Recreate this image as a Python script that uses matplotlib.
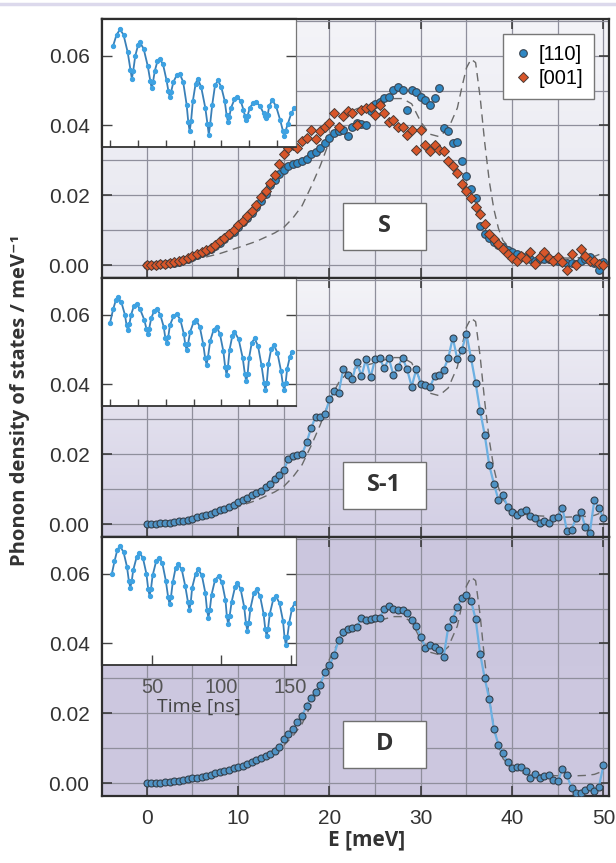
import numpy as np
import matplotlib
matplotlib.use("Agg")
import matplotlib.pyplot as plt
from matplotlib.colors import to_rgb
from matplotlib.lines import Line2D
from matplotlib.patches import Rectangle
from matplotlib.ticker import MultipleLocator

plt.rcParams['font.family'] = ['Liberation Sans', 'DejaVu Sans']

# energy grid of the measured spectra (meV)
energy = np.arange(0, 50.01, 0.5)

# sample S, two orientations
dos_s_110 = [0.0000, 0.0000, 0.0001, 0.0002, 0.0003, 0.0005, 0.0007, 0.0010, 0.0014, 0.0018,
             0.0023, 0.0028, 0.0034, 0.0040, 0.0047, 0.0055, 0.0064, 0.0074, 0.0085, 0.0096,
             0.0110, 0.0122, 0.0136, 0.0150,
             0.0165, 0.0185, 0.0205, 0.0228, 0.0245, 0.0260, 0.0272, 0.0284, 0.0290, 0.0293,
             0.0298, 0.0305, 0.0317, 0.0325, 0.0336, 0.0350, 0.0364, 0.0378, 0.0383, 0.0388,
             0.0369, 0.0395, 0.0407, 0.0404, 0.0402, 0.0440, 0.0462, 0.0468, 0.0478, 0.0482,
             0.0501, 0.0511, 0.0501, 0.0445, 0.0501, 0.0497, 0.0482, 0.0473, 0.0459, 0.0478,
             0.0506, 0.0392, 0.0383, 0.0350, 0.0354, 0.0298, 0.0255, 0.0217, 0.0193, 0.0113,
             0.0090, 0.0078, 0.0066, 0.0058, 0.0051, 0.0044, 0.0037, 0.0032, 0.0027, 0.0022,
             0.0018, 0.0013, 0.0016, 0.0018, 0.0018, 0.0015, 0.0013, 0.0010, 0.0007, 0.0005,
             0.0004, 0.0012, 0.0018, 0.0023, 0.0005, -0.0015, 0.0009]
dos_s_001 = [0.0000, 0.0000, 0.0001, 0.0002, 0.0003, 0.0005, 0.0008, 0.0011, 0.0015, 0.0020,
             0.0025, 0.0031, 0.0037, 0.0042, 0.0050, 0.0058, 0.0068, 0.0078, 0.0088, 0.0100,
             0.0115, 0.0126, 0.0142, 0.0155, 0.0172, 0.0195, 0.0212, 0.0236, 0.0258, 0.0290,
             0.0318, 0.0335, 0.0345, 0.0335, 0.0355, 0.0364, 0.0388, 0.0360, 0.0383, 0.0395,
             0.0407, 0.0435, 0.0397, 0.0426, 0.0440, 0.0435, 0.0402, 0.0445, 0.0449, 0.0454,
             0.0430, 0.0459, 0.0435, 0.0411, 0.0416, 0.0397, 0.0395, 0.0373, 0.0388, 0.0331,
             0.0388, 0.0345, 0.0326, 0.0345, 0.0331, 0.0326, 0.0298, 0.0283, 0.0264, 0.0231,
             0.0212, 0.0193, 0.0165, 0.0146, 0.0118, 0.0089, 0.0075, 0.0061, 0.0046, 0.0032,
             0.0020, 0.0013, 0.0027, 0.0018, 0.0037, 0.0004, 0.0023, 0.0037, 0.0020, 0.0013,
             0.0023, 0.0009, -0.0015, 0.0032, -0.0001, 0.0046, 0.0025, 0.0013, 0.0013, 0.0004,
             0.0000]

# sample S-1
dos_s1 = [0.0000, 0.0000, 0.0001, 0.0002, 0.0003, 0.0004, 0.0006, 0.0008, 0.0010, 0.0013,
          0.0016, 0.0019, 0.0022, 0.0026, 0.0029, 0.0034, 0.0039, 0.0043, 0.0049, 0.0056,
          0.0062, 0.0070, 0.0075, 0.0082, 0.0088, 0.0095, 0.0105, 0.0115, 0.0130, 0.0140,
          0.0154, 0.0187, 0.0196, 0.0198, 0.0200, 0.0234, 0.0276, 0.0308, 0.0308, 0.0314,
          0.0357, 0.0380, 0.0375, 0.0443, 0.0427, 0.0415, 0.0465, 0.0423, 0.0473, 0.0420,
          0.0473, 0.0475, 0.0446, 0.0475, 0.0427, 0.0449, 0.0477, 0.0443, 0.0394, 0.0443,
          0.0402, 0.0399, 0.0392, 0.0423, 0.0427, 0.0442, 0.0475, 0.0534, 0.0472, 0.0500,
          0.0545, 0.0475, 0.0404, 0.0324, 0.0255, 0.0168, 0.0116, 0.0069, 0.0083, 0.0050,
          0.0036, 0.0025, 0.0036, 0.0041, 0.0022, 0.0017, 0.0003, 0.0008, 0.0003, 0.0017,
          0.0019, 0.0047, -0.0020, -0.0016, 0.0017, 0.0036, -0.0007, -0.0025, 0.0069, 0.0045,
          0.0017]

# sample D
dos_d = [0.0000, 0.0000, 0.0001, 0.0001, 0.0002, 0.0003, 0.0005, 0.0007, 0.0009, 0.0011,
         0.0014, 0.0016, 0.0018, 0.0021, 0.0024, 0.0028, 0.0032, 0.0034, 0.0039, 0.0043,
         0.0047, 0.0050, 0.0056, 0.0061, 0.0066, 0.0071, 0.0077, 0.0083, 0.0092, 0.0104,
         0.0125, 0.0140, 0.0155, 0.0175, 0.0192, 0.0222, 0.0245, 0.0262, 0.0282, 0.0318,
         0.0338, 0.0367, 0.0410, 0.0432, 0.0442, 0.0443, 0.0448, 0.0472, 0.0467, 0.0471,
         0.0474, 0.0474, 0.0498, 0.0507, 0.0498, 0.0496, 0.0495, 0.0486, 0.0467, 0.0450,
         0.0420, 0.0388, 0.0396, 0.0390, 0.0380, 0.0362, 0.0446, 0.0470, 0.0505, 0.0530,
         0.0538, 0.0522, 0.0470, 0.0370, 0.0300, 0.0240, 0.0155, 0.0110, 0.0085, 0.0060,
         0.0042, 0.0047, 0.0045, 0.0034, 0.0016, 0.0027, 0.0015, 0.0020, 0.0022, 0.0008,
         0.0005, 0.0040, 0.0022, -0.0014, -0.0029, -0.0028, -0.0020, -0.0010, -0.0024, -0.0010,
         0.0052]

# calculated DOS (dashed, same in all panels)
calc_e = [2, 4, 6, 8, 10, 12, 14, 15, 16, 17, 18, 19, 20, 21, 22, 23, 24, 25, 26, 27,
          28, 29, 30, 31, 32, 33, 34, 34.5, 35, 35.5, 36, 36.5, 37, 37.5, 38, 38.5, 39,
          40, 41, 42, 44, 46, 48, 49, 50]
calc_dos = [0.0003, 0.0010, 0.0020, 0.0033, 0.0050, 0.0068, 0.0092, 0.0108, 0.0135, 0.0170,
            0.0225, 0.0285, 0.0355, 0.0405, 0.0435, 0.0448, 0.0455, 0.0462, 0.0470, 0.0477,
            0.0477, 0.0462, 0.0410, 0.0375, 0.0368, 0.0390, 0.0450, 0.0510, 0.0565, 0.0590,
            0.0580, 0.0480, 0.0350, 0.0240, 0.0160, 0.0105, 0.0070, 0.0042, 0.0030, 0.0025,
            0.0022, 0.0020, 0.0022, 0.0025, 0.0035]

# time spectra in the insets
t_s = [22, 24.5, 27, 29.5, 32.5, 34.5, 35.5, 36.5, 38, 40, 41.3, 44, 47, 48.8, 49.8, 50.8,
       52, 54, 55.6, 58, 60.5, 61.8, 62.8, 63.8, 65.5, 68, 70, 72.5, 75, 76.2, 77.2, 78.2,
       79.5, 81.5, 83, 85.5, 88.5, 90, 91, 92, 93.5, 95.5, 97.6, 100, 102.5, 103.8, 104.8,
       105.8, 107, 109.5, 111.6, 114, 116, 117, 118, 119, 120.5, 123, 125, 128, 130.5, 131.5,
       132.5, 133.5, 134.5, 136.8, 139.5, 142.5, 144.4, 145.4, 146.4, 148, 150.5, 152.6]
sig_s = [0.0628, 0.0660, 0.0675, 0.0660, 0.0610, 0.0560, 0.0534, 0.0556, 0.0600, 0.0630,
         0.0638, 0.0620, 0.0570, 0.0528, 0.0506, 0.0525, 0.0555, 0.0585, 0.0591, 0.0575,
         0.0530, 0.0500, 0.0482, 0.0496, 0.0525, 0.0545, 0.0548, 0.0525, 0.0460, 0.0410,
         0.0383, 0.0412, 0.0470, 0.0520, 0.0534, 0.0510, 0.0450, 0.0405, 0.0374, 0.0405,
         0.0460, 0.0515, 0.0529, 0.0510, 0.0470, 0.0430, 0.0411, 0.0425, 0.0450, 0.0475,
         0.0482, 0.0470, 0.0445, 0.0428, 0.0416, 0.0428, 0.0450, 0.0465, 0.0468, 0.0455,
         0.0435, 0.0426, 0.0421, 0.0430, 0.0455, 0.0473, 0.0455, 0.0415, 0.0385, 0.0369,
         0.0385, 0.0405, 0.0435, 0.0449]

t_s1 = [19.7, 22, 24, 25.5, 28, 30.5, 31.7, 32.7, 33.7, 35, 37, 39, 41.5, 44.5, 46, 47, 48,
        49.5, 51.5, 53.5, 56, 58.5, 59.7, 60.7, 61.7, 63, 65.5, 67.8, 70.5, 73, 74, 75, 76,
        77.5, 80, 82, 84.5, 87, 88.4, 89.4, 90.4, 92, 94.5, 96.6, 99, 101.5, 102.8, 103.8,
        104.8, 106, 108, 109.5, 112.5, 115.5, 117, 118, 119, 120, 122, 124, 126.5, 129, 130.8,
        131.8, 132.8, 134, 136, 138, 140.5, 143, 144.4, 145.4, 146.4, 147.5, 149.5, 151]
sig_s1 = [0.0575, 0.0615, 0.0642, 0.0650, 0.0635, 0.0600, 0.0570, 0.0556, 0.0572, 0.0600,
          0.0625, 0.0631, 0.0615, 0.0585, 0.0560, 0.0546, 0.0560, 0.0590, 0.0610, 0.0617,
          0.0600, 0.0565, 0.0532, 0.0518, 0.0535, 0.0570, 0.0595, 0.0603, 0.0585, 0.0545,
          0.0515, 0.0499, 0.0515, 0.0550, 0.0578, 0.0584, 0.0565, 0.0515, 0.0475, 0.0457,
          0.0478, 0.0525, 0.0557, 0.0565, 0.0545, 0.0495, 0.0450, 0.0428, 0.0450, 0.0500,
          0.0540, 0.0551, 0.0530, 0.0475, 0.0430, 0.0409, 0.0430, 0.0475, 0.0520, 0.0532,
          0.0510, 0.0455, 0.0405, 0.0384, 0.0405, 0.0460, 0.0502, 0.0513, 0.0490, 0.0440,
          0.0400, 0.0384, 0.0405, 0.0445, 0.0480, 0.0494]

t_d = [21, 23, 25, 27, 29.5, 32, 33.4, 34.4, 35.4, 36.5, 39, 41, 43.5, 46, 47.3, 48.3, 49.3,
       50.5, 53, 55, 57.5, 60, 61.7, 62.7, 63.7, 65, 67, 69, 71.5, 74, 76, 77, 78, 79, 81.5,
       83.5, 86, 88.5, 89.7, 90.7, 91.7, 93, 95.5, 98, 100.5, 103, 104, 105, 106, 107.5, 110,
       111.6, 114, 116.5, 117.8, 118.8, 119.8, 121, 123.5, 125.5, 128, 130.5, 131.7, 132.7,
       133.7, 135, 137.5, 139.4, 142, 144.5, 145.6, 146.6, 147.6, 149, 151, 153]
sig_d = [0.0598, 0.0635, 0.0668, 0.0679, 0.0662, 0.0620, 0.0578, 0.0560, 0.0578, 0.0610,
         0.0648, 0.0660, 0.0645, 0.0600, 0.0556, 0.0536, 0.0556, 0.0595, 0.0635, 0.0646,
         0.0630, 0.0580, 0.0532, 0.0512, 0.0532, 0.0575, 0.0615, 0.0627, 0.0612, 0.0565,
         0.0518, 0.0497, 0.0518, 0.0560, 0.0600, 0.0612, 0.0595, 0.0545, 0.0496, 0.0474,
         0.0496, 0.0540, 0.0582, 0.0593, 0.0575, 0.0525, 0.0478, 0.0455, 0.0478, 0.0520,
         0.0563, 0.0574, 0.0555, 0.0505, 0.0458, 0.0436, 0.0458, 0.0500, 0.0545, 0.0555,
         0.0535, 0.0485, 0.0442, 0.0421, 0.0442, 0.0485, 0.0527, 0.0536, 0.0515, 0.0465,
         0.0418, 0.0395, 0.0418, 0.0460, 0.0500, 0.0517]

panel_names = ['S', 'S-1', 'D']
bg_colors = [('#f4f4f8', '#e6e6ef'), ('#f4f4f8', '#d2cee4'), ('#cbc6de', '#cdc8e0')]

YLIM = (-0.0037, 0.0705)


def paint_background(ax, top, bottom):
    c0 = np.array(to_rgb(top))
    c1 = np.array(to_rgb(bottom))
    frac = np.linspace(0, 1, 200)[:, None, None]
    img = c0 + (c1 - c0) * frac
    ax.imshow(img, extent=[0, 1, 0, 1], transform=ax.transAxes, aspect='auto',
              zorder=0, interpolation='bilinear')


fig = plt.figure(figsize=(6.16, 8.63), dpi=100)
axes = fig.subplots(3, 1, sharex=True, gridspec_kw=dict(hspace=0))
fig.subplots_adjust(left=0.1656, right=0.9886, top=0.978, bottom=0.0776)

for i, ax in enumerate(axes):
    paint_background(ax, *bg_colors[i])
    ax.set_axisbelow(True)
    ax.plot(calc_e, calc_dos, color='#6a6a6a', lw=1.0, dashes=(6, 4), zorder=2)

    if i == 0:
        ax.plot(energy, dos_s_110, ls='none', marker='o', ms=5.5, mfc='#2f88c4',
                mec='#3a4450', mew=0.8, zorder=3, label='[110]')
        ax.plot(energy, dos_s_001, ls='none', marker='D', ms=5.0, mfc='#d8562a',
                mec='#4a3a34', mew=0.7, zorder=4, label='[001]')
        leg = ax.legend(loc='upper right', fontsize=14.5, frameon=True, fancybox=False,
                        edgecolor='#777777', framealpha=1, handletextpad=0.3,
                        handlelength=0.9, borderpad=0.55, labelspacing=0.25,
                        borderaxespad=0.75)
        leg.get_frame().set_linewidth(1.0)
        leg.set_zorder(10)
    else:
        y = dos_s1 if i == 1 else dos_d
        ax.plot(energy, y, color='#6cb0e2', lw=1.6, marker='o', ms=5.0, mfc='#4f92c4',
                mec='#34404c', mew=0.8, zorder=3)

    ax.set_xlim(-4.9, 50.6)
    ax.set_ylim(*YLIM)
    ax.xaxis.set_major_locator(MultipleLocator(10))
    ax.xaxis.set_minor_locator(MultipleLocator(5))
    ax.set_yticks([0.0, 0.02, 0.04, 0.06])
    ax.set_yticklabels(['0.00', '0.02', '0.04', '0.06'])
    ax.yaxis.set_minor_locator(MultipleLocator(0.01))
    ax.grid(which='both', color='#8f8f9c', lw=0.9)
    ax.tick_params(which='major', direction='in', length=7, width=1.1, top=True,
                   right=True, labelsize=15, labelcolor='#333333', color='#333333', pad=9)
    ax.tick_params(which='minor', length=0)
    for sp in ax.spines.values():
        sp.set_color('#2e2e2e')
        sp.set_linewidth(1.6)

    # sample label box
    ax.add_patch(Rectangle((0.475, 0.11), 0.164, 0.178, transform=ax.transAxes,
                           facecolor='white', edgecolor='#707070', lw=1.0, zorder=6))
    ax.text(0.557, 0.199, panel_names[i], transform=ax.transAxes, ha='center',
            va='center', fontsize=17, fontweight='bold', color='#333333',
            family=['Open Sans', 'DejaVu Sans'], zorder=7)

    # inset with time spectrum
    ins = ax.inset_axes([0.0, 0.505, 0.383, 0.495])
    ins.set_facecolor('white')
    tt, ss = [(t_s, sig_s), (t_s1, sig_s1), (t_d, sig_d)][i]
    ins.plot(tt, ss, color='#3a80b8', lw=1.3, marker='o', ms=2.8, mfc='#3ea2e2',
             mec='#3ea2e2')
    ins.set_xlim(14, 154)
    ins.set_ylim(YLIM[0] + 0.505 * (YLIM[1] - YLIM[0]), YLIM[1])
    ins.set_yticks([0.04, 0.06])
    ins.set_yticklabels([])
    ins.tick_params(axis='y', direction='in', left=True, right=True, length=7,
                    width=1.0, color='#444444')
    if i < 2:
        ins.set_xticks([20, 40, 60, 80, 100, 120, 140])
        ins.set_xticklabels([])
        ins.tick_params(axis='x', direction='in', length=5, width=1.0, color='#444444')
    else:
        ins.set_xticks([50, 100, 150])
        ins.tick_params(axis='x', direction='in', length=7, width=1.0, color='#444444',
                        labelsize=14.5, labelcolor='#555555', pad=9)
        ins.set_xlabel('Time [ns]', fontsize=14, color='#444444', labelpad=1,
                       family=['Open Sans', 'DejaVu Sans'])
    for side in ['left', 'top']:
        ins.spines[side].set_color('#2e2e2e')
        ins.spines[side].set_linewidth(1.6)
    ins.spines['bottom'].set_color('#333333')
    ins.spines['bottom'].set_linewidth(1.3)
    ins.spines['right'].set_color('#777777')
    ins.spines['right'].set_linewidth(0.9)

for ax in axes[:2]:
    ax.tick_params(labelbottom=False)

fig.text(20 / 616, 1 - 400 / 863, 'Phonon density of states / meV⁻¹', rotation=90,
         ha='center', va='center', fontsize=14.5, fontweight='bold', color='#333333',
         family=['Open Sans', 'DejaVu Sans'])
fig.text(367 / 616, 1 - 840 / 863, 'E [meV]', ha='center', va='center', fontsize=15,
         fontweight='bold', color='#333333', family=['Open Sans', 'DejaVu Sans'])

# thin lavender rule at the very top of the page
fig.add_artist(Line2D([0, 1], [1 - 4 / 863, 1 - 4 / 863], transform=fig.transFigure,
                      color='#dcd9ec', lw=2.5))

fig.savefig('out.png', dpi=100, facecolor='white')
